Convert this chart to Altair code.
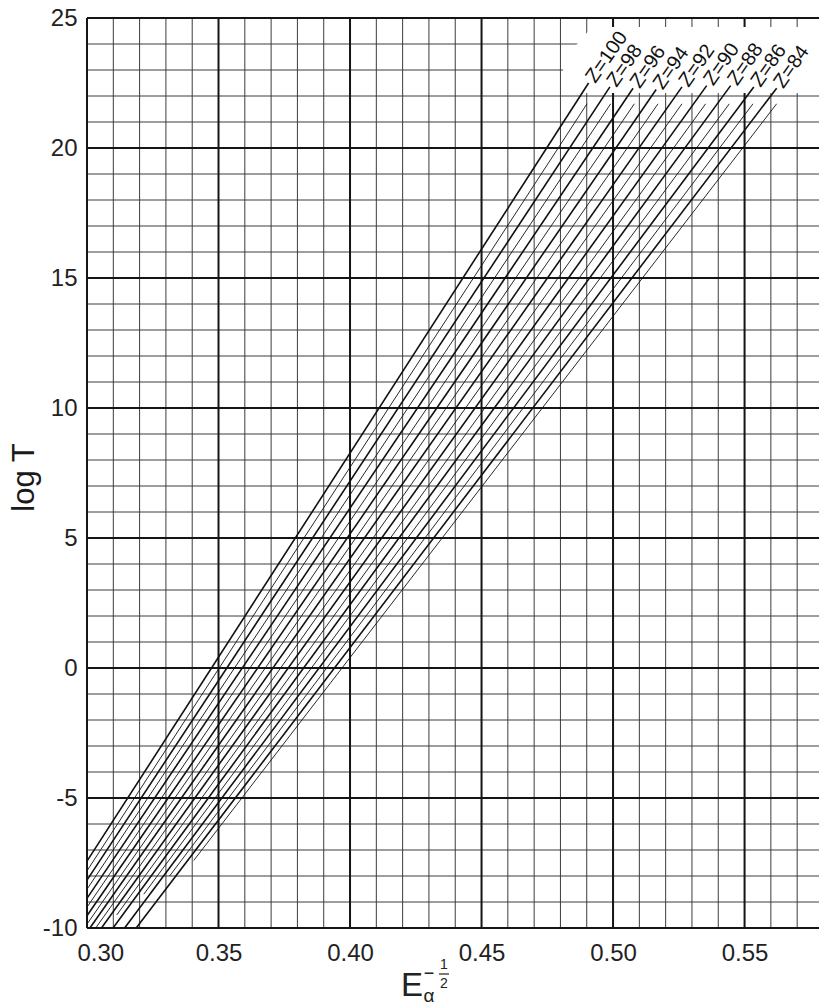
import altair as alt
import pandas as pd

# ---- data ----
Z_values = [100, 99, 98, 97, 96, 95, 94, 93, 92, 91, 90, 89, 88, 87, 86, 85, 84, 83]
x_low = [0.3000, 0.3000, 0.3000, 0.3000, 0.3000, 0.3000, 0.3000, 0.3000, 0.3011,
         0.3033, 0.3055, 0.3113, 0.3099, 0.3216, 0.3143, 0.3314, 0.3187, 0.3406]
y_low = [-7.43, -7.80, -8.16, -8.51, -8.86, -9.20, -9.53, -9.85, -10.0,
         -10.0, -10.0, -9.50, -10.0, -8.70, -10.0, -8.00, -10.0, -7.40]
x_high = [0.4907, 0.4901, 0.4988, 0.4991, 0.5076, 0.5081, 0.5164, 0.5171, 0.5262,
          0.5262, 0.5356, 0.5352, 0.5447, 0.5442, 0.5535, 0.5532, 0.5622, 0.5622]
y_high = [22.50, 21.70, 22.35, 21.70, 22.30, 21.70, 22.25, 21.70, 22.35,
          21.70, 22.40, 21.70, 22.40, 21.70, 22.35, 21.70, 22.30, 21.70]

x_major = [0.30, 0.35, 0.40, 0.45, 0.50, 0.55]
x_minor = [0.30, 0.31, 0.32, 0.33, 0.34, 0.35, 0.36, 0.37, 0.38, 0.39,
           0.40, 0.41, 0.42, 0.43, 0.44, 0.45, 0.46, 0.47, 0.48, 0.49,
           0.50, 0.51, 0.52, 0.53, 0.54, 0.55, 0.56, 0.57]
y_major = [-10, -5, 0, 5, 10, 15, 20, 25]
y_minor = [-10, -9, -8, -7, -6, -5, -4, -3, -2, -1, 0, 1, 2, 3, 4, 5, 6, 7, 8, 9,
           10, 11, 12, 13, 14, 15, 16, 17, 18, 19, 20, 21, 22, 23, 24, 25]

# blank (lettering) zone behind the Z labels, where the grid is left out
blank_x = [0.4810, 0.4920, 0.5783]
blank_lo = [22.12, 22.12, 22.12]
blank_hi = [23.38, 24.65, 24.65]

FONT = "Liberation Sans"

# ---- tables ----
rows = []
for z, x0, y0, x1, y1 in zip(Z_values, x_low, y_low, x_high, y_high):
    kind = "even" if z % 2 == 0 else "odd"
    rows.append({"Z": z, "x": x0, "y": y0, "kind": kind})
    rows.append({"Z": z, "x": x1, "y": y1, "kind": kind})
lines_df = pd.DataFrame(rows)

lab_df = pd.DataFrame([
    {"Z": z, "x": x1, "y": y1, "label": f"Z={z}"}
    for z, x1, y1 in zip(Z_values, x_high, y_high) if z % 2 == 0
])

xs = alt.Scale(domain=[0.30, 0.5783], nice=False, zero=False)
ys = alt.Scale(domain=[-10, 25], nice=False, zero=False)

x_axis = alt.Axis(values=x_major, format=".2f", labelFontSize=24, labelFont=FONT,
                  labelColor="#222", ticks=False, tickSize=0, domain=False, grid=False,
                  labelPadding=13, title=None, labelFlush=True, labelFlushOffset=10)
y_axis = alt.Axis(values=y_major, labelFontSize=24, labelFont=FONT, labelColor="#222",
                  ticks=False, tickSize=0, domain=False, grid=False, labelPadding=10,
                  labelExpr="datum.value < 0 ? '-' + (-datum.value) : '' + datum.value",
                  title="log T", titleFontSize=31, titleFont=FONT, titleFontWeight="normal",
                  titleColor="#1a1a1a", titleAngle=270, titleX=-63, titleY=459,
                  titleAlign="center", titleBaseline="middle")

X = lambda: alt.X("x:Q", scale=xs, axis=x_axis)
Y = lambda: alt.Y("y:Q", scale=ys, axis=y_axis)

vminor = alt.Chart(pd.DataFrame({"x": x_minor})).mark_rule(
    color="#3c3c3c", strokeWidth=1.0).encode(x=X())
hminor = alt.Chart(pd.DataFrame({"y": y_minor})).mark_rule(
    color="#3c3c3c", strokeWidth=1.0).encode(y=Y())
vmajor = alt.Chart(pd.DataFrame({"x": x_major})).mark_rule(
    color="#151515", strokeWidth=2.0).encode(x=X())
hmajor = alt.Chart(pd.DataFrame({"y": y_major})).mark_rule(
    color="#151515", strokeWidth=2.0).encode(y=Y())

blank = alt.Chart(pd.DataFrame({"x": blank_x, "y": blank_lo, "y2": blank_hi})).mark_area(
    color="white", opacity=1, interpolate="linear"
).encode(x=X(), y=Y(), y2="y2:Q")

zlines = alt.Chart(lines_df).mark_line(color="#111").encode(
    x=X(),
    y=Y(),
    detail="Z:N",
    strokeWidth=alt.StrokeWidth("kind:N", scale=alt.Scale(domain=["even", "odd"], range=[1.6, 0.9]),
                                legend=None),
)

zlabels = alt.Chart(lab_df).mark_text(
    angle=305, align="left", baseline="middle", dx=3, fontSize=20, font=FONT, color="#111"
).encode(
    x=X(),
    y=Y(),
    text="label:N",
)

# ---- x-axis title  E_alpha^(-1/2) ----
def txt(s, x, y, size, align="center"):
    return alt.Chart(pd.DataFrame({"t": [s]})).mark_text(
        fontSize=size, font=FONT, color="#222", align=align, baseline="middle"
    ).encode(x=alt.value(x), y=alt.value(y), text="t:N")

t_E = txt("E", 314, 968, 33, align="left")
t_alpha = txt("α", 342, 978, 19)
t_minus = txt("−", 342, 956, 18)
t_one = txt("1", 357, 947, 14)
t_two = txt("2", 357, 966, 14)
t_bar = alt.Chart(pd.DataFrame({"a": [0]})).mark_rule(color="#222", strokeWidth=1.2).encode(
    x=alt.value(352), x2=alt.value(362), y=alt.value(956))

chart = alt.layer(
    vminor, hminor, vmajor, hmajor, blank, zlines, zlabels,
    t_E, t_alpha, t_minus, t_one, t_two, t_bar
).properties(
    width=732, height=910,
    padding={"left": 87, "top": 18, "right": 0, "bottom": 79},
    autosize=alt.AutoSizeParams(type="none"),
    background="white",
).configure_view(stroke=None)

chart.save("out.html", embed_options={"renderer": "svg", "actions": False})
